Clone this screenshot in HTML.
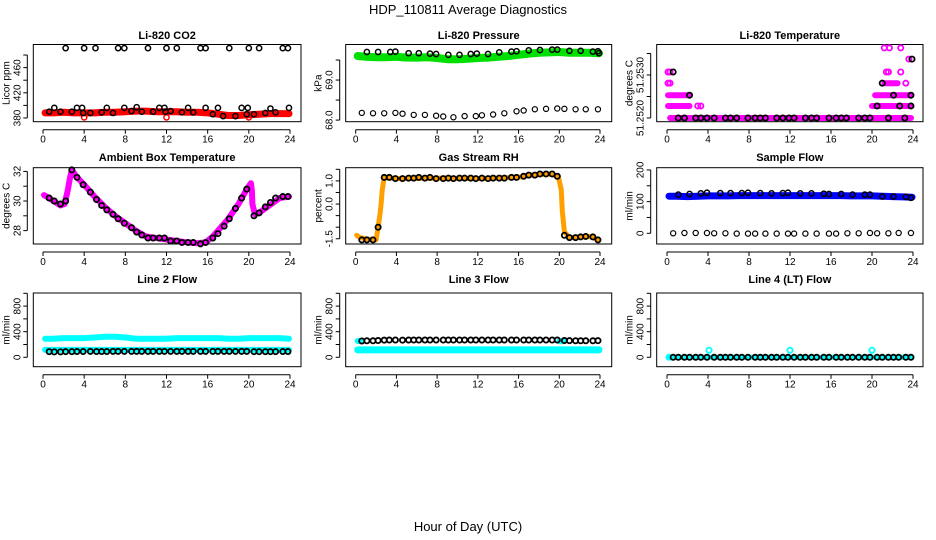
<!DOCTYPE html>
<html><head><meta charset="utf-8">
<style>
html,body{margin:0;padding:0;background:#fff;}
svg{display:block;font-family:"Liberation Sans",sans-serif;}
.t{font-size:11px;font-weight:bold;text-anchor:middle;}
.tk{font-size:10px;text-anchor:middle;}
</style></head>
<body>
<svg id="chart" width="936" height="540" viewBox="0 0 936 540">
<text x="468" y="14" font-size="13" text-anchor="middle">HDP_110811  Average Diagnostics</text>
<text x="468" y="531" font-size="13" text-anchor="middle">Hour of Day (UTC)</text>
</svg>
<script>
// ---- data ----
const H = [0.6,1.1,1.7,2.2,2.8,3.3,3.9,4.6,5.2,5.7,6.2,6.8,7.3,7.9,8.6,9.1,9.6,10.2,10.7,11.3,11.8,12.4,13,13.5,14.1,14.6,15.3,15.8,16.5,17,17.6,18.1,18.7,19.3,19.8,20.5,21,21.6,22.1,22.6,23.3,23.8];
const hourly = [0,1,2,3,4,5,6,7,8,9,10,11,12,13,14,15,16,17,18,19,20,21,22,23,24];

const co2RedVals = [388,388,389,388,388,388,389,389,390,391,391,390,390,390,389,389,388,386,384,384,385,386,387,387,387];
const co2RedOutHours = [4,12,20];
const co2RedOutVals = [381,381,381];
const co2HighHours = [2.2,4,5.1,7.3,7.9,10.2,12,13,15.3,15.8,18.1,20,21,23.3,23.8];
const co2HighVals = [491,491,491,491,491,491,491,491,491,491,491,491,491,491,491];
const co2LowHours = [0.6,1.1,1.7,2.8,3.3,3.8,3.9,4.6,5.7,6.2,6.8,7.9,8.6,9.1,9.6,10.7,11.3,11.8,11.9,12.4,13.5,14.1,14.6,15.8,16.5,17,17.5,18.7,19.3,19.8,19.9,20.5,21.6,22.1,22.6,23.9];
const co2LowVals = [390,396,390,390,396,396,388,388,389,396,388,396,391,397,390,390,396,396,390,391,389,396,389,396,386,396,383,383,396,386,396,386,388,395,389,396];

const presGreenVals = [69.6,69.58,69.57,69.57,69.58,69.56,69.56,69.57,69.55,69.52,69.52,69.53,69.55,69.56,69.58,69.6,69.63,69.66,69.68,69.69,69.7,69.68,69.68,69.68,69.67];
const presHighHours = [1.1,2.2,3.4,3.9,5.2,6.2,7.3,7.9,9.1,10.2,11.3,11.9,13,14.1,15.3,15.8,17,18.1,19.3,19.8,21,22.1,23.3,23.8,23.9];
const presHighVals = [69.7,69.7,69.7,69.71,69.67,69.67,69.66,69.65,69.63,69.63,69.65,69.66,69.65,69.69,69.71,69.72,69.74,69.75,69.76,69.76,69.73,69.73,69.71,69.72,69.67];
const presLowHours = [0.6,1.7,2.8,3.9,4.6,5.7,6.8,7.9,8.6,9.6,10.7,11.8,12.4,13.5,14.6,15.8,16.5,17.6,18.7,19.8,20.5,21.6,22.6,23.8];
const presLowVals = [68.18,68.17,68.17,68.18,68.16,68.13,68.13,68.11,68.09,68.07,68.1,68.1,68.12,68.14,68.17,68.22,68.24,68.27,68.28,68.29,68.28,68.27,68.27,68.27];

const tempBandStart = [0.3,0.1,0.1,20.0,20.3,21.2];
const tempBandEnd = [23.8,2.2,2.2,23.8,23.8,22.5];
const tempBandVals = [51.25200,51.25253,51.25228,51.25228,51.25253,51.25281];
const tempMagHours = [0.1,0.3,0.1,0.3,3.0,3.3,21.4,21.6,22.8,23.3,23.6,21.2,21.7,22.8];
const tempMagVals = [51.25307,51.25307,51.25281,51.25281,51.25228,51.25228,51.25307,51.25307,51.25307,51.25281,51.25337,51.25363,51.25363,51.25363];
const tempBlackHours = [1.1,1.7,2.8,3.3,3.9,4.6,5.7,6.2,6.8,7.9,8.6,9.1,9.6,10.7,11.3,11.9,12.4,13.5,14.1,14.6,15.8,16.5,17,17.5,18.7,19.3,19.8,0.6,2.2,20.5,21,21.6,22.1,22.7,23.2,23.8,23.8,23.9];
const tempBlackVals = [51.252,51.252,51.252,51.252,51.252,51.252,51.252,51.252,51.252,51.252,51.252,51.252,51.252,51.252,51.252,51.252,51.252,51.252,51.252,51.252,51.252,51.252,51.252,51.252,51.252,51.252,51.252,51.25307,51.25253,51.25228,51.25281,51.252,51.25253,51.25228,51.252,51.25228,51.25253,51.25337];

const ambHours = [0,0.6,1,1.7,2.1,2.4,2.6,2.8,3.3,4,5,6,7,8,9,10,11,12,13,14,15,15.8,16.5,17,18,19,19.8,20.2,20.3,20.35,20.6,21,22,23,24];
const ambVals = [30.4,30.2,30.0,29.7,29.8,30.7,31.5,32.1,31.6,31.1,30.3,29.6,29.0,28.5,28.0,27.6,27.5,27.4,27.3,27.2,27.15,27.2,27.6,28.0,28.8,29.8,30.8,31.2,30.7,29.8,29.1,29.2,29.7,30.2,30.3];
const ambBlackHours = [0.6,1.1,1.7,2.2,2.8,3.3,3.9,4.6,5.2,5.7,6.2,6.8,7.3,7.9,8.6,9.1,9.6,10.2,10.7,11.3,11.8,12.4,13,13.5,14.1,14.6,15.3,15.8,16.5,17,17.6,18.1,18.7,19.3,19.8,20.5,21,21.6,22.1,22.6,23.3,23.8];
const ambBlackVals = [30.2,30.0,29.8,30.0,32.1,31.6,31.1,30.6,30.1,29.7,29.4,29.1,28.8,28.5,28.2,27.9,27.7,27.5,27.5,27.5,27.5,27.3,27.3,27.2,27.2,27.2,27.1,27.2,27.5,27.8,28.3,28.8,29.5,30.2,30.8,29.0,29.2,29.6,29.9,30.2,30.3,30.3];

const rhHours = [0,0.4,1,2,2.2,2.4,2.5,2.6,2.8,4,8,12,16,17,19,19.9,20.2,20.3,20.5,21,23,24];
const rhVals = [-1.35,-1.45,-1.5,-1.55,-1.0,-0.4,0,0.6,1.15,1.1,1.12,1.1,1.15,1.25,1.3,1.2,0.6,-0.3,-1.2,-1.45,-1.4,-1.55];
const rhBlackHours = [0.6,1.1,1.7,2.2,2.8,3.3,3.9,4.6,5.2,5.7,6.2,6.8,7.3,7.9,8.6,9.1,9.6,10.2,10.7,11.3,11.8,12.4,13,13.5,14.1,14.6,15.3,15.8,16.5,17,17.6,18.1,18.7,19.3,19.8,20.5,21,21.6,22.1,22.6,23.3,23.8];
const rhBlackVals = [-1.55,-1.55,-1.55,-1.0,1.15,1.15,1.1,1.1,1.12,1.12,1.15,1.12,1.15,1.1,1.1,1.12,1.1,1.12,1.12,1.12,1.1,1.12,1.1,1.12,1.12,1.12,1.15,1.15,1.2,1.25,1.25,1.3,1.3,1.3,1.2,-1.35,-1.45,-1.45,-1.42,-1.4,-1.42,-1.55];

const sampBlueVals = [117,117,116,117,118,118,118,119,119,119,119,119,119,119,119,119,119,119,118,118,118,117,116,115,114];
const sampHighHours = [1.1,2.2,3.3,3.9,5.2,6.2,7.3,7.9,9.1,10.2,11.3,11.8,13,14.1,15.3,15.8,17,18.1,19.3,19.8,21,22.1,23.3,23.8];
const sampHighVals = [122,124,126,128,127,127,127,128,127,126,127,128,126,126,125,124,124,122,122,122,116,116,115,112];
const sampLowHours = [0.6,1.7,2.8,3.9,4.6,5.7,6.8,7.9,8.6,9.6,10.7,11.8,12.4,13.5,14.6,15.8,16.5,17.6,18.7,19.8,20.5,21.6,22.6,23.8];
const sampLowVals = [0,1,1,1,0,0,-1,-1,-1,-1,-1,-1,-1,-1,-1,-1,-1,0,0,1,0,0,1,1];

const l2UpperVals = [290,290,300,300,300,310,320,320,310,290,290,290,290,300,300,300,300,300,290,290,300,300,300,300,290];
const l2LowerVals = [115,115,115,115,115,115,115,115,115,115,115,115,115,115,115,115,115,115,115,115,115,115,115,115,115];
const l2BlackVals = [88,85,85,88,88,90,90,92,90,90,90,92,92,92,92,92,92,92,92,92,92,92,92,92,92,92,92,92,92,92,92,92,92,92,92,88,88,88,88,88,90,90];

const l3CyanVals = [115,115,115,115,115,115,115,115,115,115,115,115,115,115,115,115,115,115,115,115,115,115,115,115,115];
const l3CyanUpHours = [0.2,0.6,20,20.4];
const l3CyanUpVals = [255,255,250,250];
const l3BlackVals = [255,258,258,262,268,270,270,268,270,270,270,270,270,270,270,270,270,270,270,270,270,270,270,270,270,270,270,270,270,270,270,270,270,270,270,262,260,258,258,258,258,260];

const l4CyanVals = [0,0,0,0,0,0,0,0,0,0,0,0,0,0,0,0,0,0,0,0,0,0,0,0,0];
const l4OutHours = [0.2,4.1,12,20];
const l4OutVals = [0,110,110,110];
const l4BlackVals = [0,0,0,0,0,0,0,0,0,0,0,0,0,0,0,0,0,0,0,0,0,0,0,0,0,0,0,0,0,0,0,0,0,0,0,0,0,0,0,0,0,0];

// ---- layout ----
const svg = document.getElementById('chart');
const NS = 'http://www.w3.org/2000/svg';
const colL = [33.3,345.7,656.7], colR = [301,611.7,923];
const x0 = [43,355.7,667], x24 = [290,600,913];
const rowT = [44.5,167.7,293], rowB = [121.7,244,366.7];
const titleY = [39,161,283];

function mk(tag, attrs, parent){
  const e = document.createElementNS(NS, tag);
  for (const k in attrs) e.setAttribute(k, attrs[k]);
  (parent||svg).appendChild(e);
  return e;
}

function panel(r, c, name, title, ylab, lo, hi, ticks, labels){
  const g = mk('g', {});
  
  
  const L = colL[c], R = colR[c], T = rowT[r], B = rowB[r];
  const xs = h => x0[c] + (x24[c]-x0[c]) * h / 24;
  const ys = v => B - (B-T) * (v-lo) / (hi-lo);
  const box = mk('rect', {x:L, y:T, width:R-L, height:B-T, fill:'none', stroke:'#000', 'stroke-width':1}, g);
  
  
  const tt = mk('text', {x:(L+R)/2, y:titleY[r], class:'t'}, g);
  tt.textContent = title;
  
  
  // x axis
  const xa = mk('g', {}, g);
  
  
  mk('line', {x1:xs(0), x2:xs(24), y1:B+8, y2:B+8, stroke:'#000'}, xa);
  for (let h=0; h<=24; h+=4){
    mk('line', {x1:xs(h), x2:xs(h), y1:B+8, y2:B+12, stroke:'#000'}, xa);
    const t = mk('text', {x:xs(h), y:B+21, class:'tk'}, xa);
    t.textContent = h;
  }
  // y axis
  const ya = mk('g', {}, g);
  
  
  const ax = L - 6;
  mk('line', {x1:ax, x2:ax, y1:ys(ticks[0]), y2:ys(ticks[ticks.length-1]), stroke:'#000'}, ya);
  ticks.forEach(v => mk('line', {x1:ax-4, x2:ax, y1:ys(v), y2:ys(v), stroke:'#000'}, ya));
  labels.forEach(p => {
    const t = mk('text', {x:ax-7, y:ys(p[0]), class:'tk', transform:`rotate(-90 ${ax-7} ${ys(p[0])})`}, ya);
    t.textContent = p[1];
  });
  const yl = mk('text', {x:L-24, y:(T+B)/2, class:'tk', transform:`rotate(-90 ${L-24} ${(T+B)/2})`}, g);
  yl.textContent = ylab;
  
  
  const clip = mk('g', {}, g);
  return {g: clip, xs, ys};
}

function band(p, hs, vs, color, w, nm){
  const pts = hs.map((h,i) => p.xs(h).toFixed(1) + ',' + p.ys(vs[i]).toFixed(1)).join(' ');
  const pl = mk('polyline', {points:pts, fill:'none', stroke:color, 'stroke-width':w, 'stroke-linecap':'round', 'stroke-linejoin':'round'}, p.g);
  
  
}
function pts(p, hs, vs, color, nm, sw){
  const gg = mk('g', {}, p.g);
  
  
  hs.forEach((h,i) => {
    mk('circle', {cx:p.xs(h), cy:p.ys(vs[i]), r:2.6, fill:'none', stroke:color, 'stroke-width':sw||1.5}, gg);
  });
}

// Row 1
let p = panel(0,0,'co2','Li-820 CO2','Licor ppm',374.1,496.7,[380,400,420,440,460,480],[[380,'380'],[420,'420'],[460,'460']]);
band(p, [0.2].concat(hourly.slice(1,24)).concat([23.9]), co2RedVals, '#f00', 7, 'co2-red-series');
pts(p, co2RedOutHours, co2RedOutVals, '#f00', 'co2-red-outliers');
pts(p, co2HighHours, co2HighVals, '#000', 'co2-black-high');
pts(p, co2LowHours, co2LowVals, '#000', 'co2-black-low');

p = panel(0,1,'pressure','Li-820 Pressure','kPa',67.96,69.8875,[68,68.5,69,69.5],[[68,'68.0'],[69,'69.0']]);
band(p, [0.2].concat(hourly.slice(1,24)).concat([23.9]), presGreenVals, '#00e000', 8, 'pressure-green-series');
pts(p, presHighHours, presHighVals, '#000', 'pressure-black-high');
pts(p, presLowHours, presLowVals, '#000', 'pressure-black-low', 1.2);

p = panel(0,2,'temperature','Li-820 Temperature','degrees C',51.251914,51.253709,[51.252,51.2525,51.253,51.2535],[[51.252,'51.2520'],[51.253,'51.2530']]);
tempBandStart.forEach((s,i) => band(p, [s, tempBandEnd[i]], [tempBandVals[i], tempBandVals[i]], '#f0f', 6, 'temperature-magenta-band'));
pts(p, tempMagHours, tempMagVals, '#f0f', 'temperature-magenta-points', 1.8);
pts(p, tempBlackHours, tempBlackVals, '#000', 'temperature-black-points', 1.8);

// Row 2
p = panel(1,0,'ambient','Ambient Box Temperature','degrees C',27.095,32.25,[28,29,30,31,32],[[28,'28'],[30,'30'],[32,'32']]);
band(p, ambHours.map(h=>Math.max(0.1,Math.min(23.9,h))), ambVals, '#f0f', 6, 'ambient-magenta-series');
pts(p, ambBlackHours, ambBlackVals, '#000', 'ambient-black-points', 1.8);

p = panel(1,1,'rh','Gas Stream RH','percent',-1.726,1.57,[-1.5,-1,-0.5,0,0.5,1,1.5],[[-1.5,'-1.5'],[0,'0.0'],[1,'1.0']]);
band(p, rhHours.map(h=>Math.max(0.1,Math.min(23.9,h))), rhVals, '#ffa000', 5, 'rh-orange-series');
pts(p, rhBlackHours, rhBlackVals, '#000', 'rh-black-points', 1.8);

p = panel(1,2,'sample-flow','Sample Flow','ml/min',-33.8,207.1,[0,50,100,150,200],[[0,'0'],[100,'100'],[200,'200']]);
band(p, [0.2].concat(hourly.slice(1,24)).concat([23.9]), sampBlueVals, '#0000ff', 7, 'sample-flow-blue-series');
pts(p, sampHighHours, sampHighVals, '#000', 'sample-flow-black-high');
pts(p, sampLowHours, sampLowVals, '#000', 'sample-flow-black-low', 1.2);

// Row 3
const flowTicks = [0,200,400,600,800,1000];
const flowLabels = [[0,'0'],[400,'400'],[800,'800']];
p = panel(2,0,'line2-flow','Line 2 Flow','ml/min',-146.9,1004.7,flowTicks,flowLabels);
band(p, [0.2].concat(hourly.slice(1,24)).concat([23.9]), l2UpperVals, '#00ffff', 6, 'line2-cyan-upper');
band(p, [0.2].concat(hourly.slice(1,24)).concat([23.9]), l2LowerVals, '#00ffff', 6, 'line2-cyan-lower');
pts(p, H, l2BlackVals, '#000', 'line2-black-points', 1.8);

p = panel(2,1,'line3-flow','Line 3 Flow','ml/min',-146.9,1004.7,flowTicks,flowLabels);
band(p, [0.2].concat(hourly.slice(1,24)).concat([23.9]), l3CyanVals, '#00ffff', 7, 'line3-cyan-series');
band(p, l3CyanUpHours.slice(0,2), l3CyanUpVals.slice(0,2), '#00ffff', 6, 'line3-cyan-upper-a');
band(p, l3CyanUpHours.slice(2), l3CyanUpVals.slice(2), '#00ffff', 6, 'line3-cyan-upper-b');
pts(p, H, l3BlackVals, '#000', 'line3-black-points', 1.8);

p = panel(2,2,'line4-flow','Line 4 (LT) Flow','ml/min',-146.9,1004.7,flowTicks,flowLabels);
band(p, [0.2].concat(hourly.slice(1,24)).concat([23.9]), l4CyanVals, '#00ffff', 5, 'line4-cyan-series');
pts(p, l4OutHours, l4OutVals, '#00ffff', 'line4-cyan-outliers', 1.8);
pts(p, H, l4BlackVals, '#000', 'line4-black-points', 1.8);
</script>
</body></html>
